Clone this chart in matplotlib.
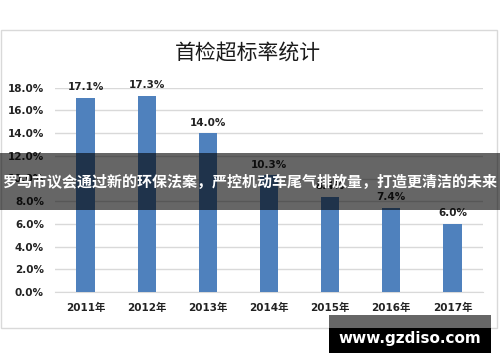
import matplotlib
matplotlib.use("Agg")
import matplotlib.pyplot as plt
from matplotlib.patches import Rectangle

years = ["2011年", "2012年", "2013年", "2014年", "2015年", "2016年", "2017年"]
rates = [17.1, 17.3, 14.0, 10.3, 8.4, 7.4, 6.0]
yticks = [0, 2, 4, 6, 8, 10, 12, 14, 16, 18]

title = "首检超标率统计"
banner = "罗马市议会通过新的环保法案，严控机动车尾气排放量，打造更清洁的未来"
watermark = "www.gzdiso.com"

plt.rcParams['font.family'] = ['DejaVu Sans', 'Noto Sans CJK SC']

W, H = 500, 362
fig = plt.figure(figsize=(W / 100, H / 100), dpi=100)

def px(x0, y0, x1, y1):
    # pixel box (top-left origin) -> figure fraction rect
    return (x0 / W, 1 - y1 / H, (x1 - x0) / W, (y1 - y0) / H)

## chart frame
l, b, w, h = px(1, 30, 497, 328)
fig.add_artist(Rectangle((l, b), w, h, transform=fig.transFigure,
                         fill=False, edgecolor="#d9d9d9", lw=1, zorder=0))

ax = fig.add_axes(px(55, 87.7, 483, 292))
x = range(len(years))
ax.bar(x, rates, width=0.3, color="#4f81bd", zorder=3)
for i, v in zip(x, rates):
    ax.annotate(f"{v:.1f}%", (i, v), xytext=(0, 4), textcoords="offset points",
                ha="center", va="bottom", fontsize=7.5, fontweight="bold",
                color="#222222")

ax.set_xlim(-0.5, len(years) - 0.5)
ax.set_ylim(0, 18)
ax.set_yticks(yticks)
ax.set_yticklabels([f"{t:.1f}%" for t in yticks])
ax.set_xticks(list(x))
ax.set_xticklabels(years)
ax.grid(axis="y", color="#d9d9d9", lw=1, zorder=0)
ax.tick_params(length=0, labelsize=7.5, labelcolor="#222222", pad=8)
for lab in ax.get_xticklabels() + ax.get_yticklabels():
    lab.set_fontweight("bold")
for s in ["top", "right", "left"]:
    ax.spines[s].set_visible(False)
ax.spines["bottom"].set_color("#d9d9d9")

fig.text(248 / W, 1 - 53 / H, title, ha="center", va="center", fontsize=15,
         family=["Noto Sans CJK SC"], color="#1a1a1a")

## banner overlay
l, b, w, h = px(0, 153, 500, 210)
fig.add_artist(Rectangle((l, b), w, h, transform=fig.transFigure,
                         facecolor="black", alpha=0.6, lw=0, zorder=10))
fig.text(0.5, 1 - 182 / H, banner, ha="center", va="center", fontsize=10.8,
         color="white", fontweight="bold", family=["Noto Sans CJK SC", "DejaVu Sans"],
         zorder=11)

## watermark
l, b, w, h = px(329, 315, 491, 328)
fig.add_artist(Rectangle((l, b), w, h, transform=fig.transFigure,
                         facecolor="#666666", lw=0, zorder=10))
l, b, w, h = px(329, 328, 491, 353)
fig.add_artist(Rectangle((l, b), w, h, transform=fig.transFigure,
                         facecolor="black", lw=0, zorder=10))
fig.text(410 / W, 1 - 338 / H, watermark, ha="center", va="center", fontsize=11,
         color="white", fontweight="bold", zorder=11)

fig.savefig("out.png", dpi=100)
